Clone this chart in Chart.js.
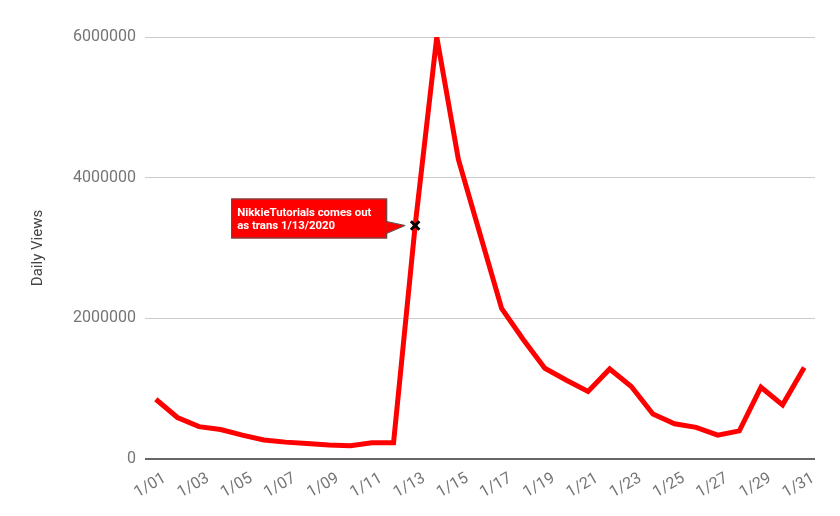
<!DOCTYPE html>
<html>
<head>
<meta charset="utf-8">
<script src="https://cdn.jsdelivr.net/npm/chart.js@4.4.1/dist/chart.umd.min.js"></script>
<style>
    body { margin: 0; background: #fff; }
    #wrap { width: 840px; height: 516px; position: relative; }
</style>
</head>
<body>
<div id="wrap"><canvas id="chart"></canvas></div>
<script>
// daily views, January 2020
const days = [
    "1/01", "1/02", "1/03", "1/04", "1/05", "1/06", "1/07", "1/08", "1/09", "1/10",
    "1/11", "1/12", "1/13", "1/14", "1/15", "1/16", "1/17", "1/18", "1/19", "1/20",
    "1/21", "1/22", "1/23", "1/24", "1/25", "1/26", "1/27", "1/28", "1/29", "1/30", "1/31"
];
const dailyViews = [
    850000, 590000, 460000, 420000, 340000, 270000, 240000, 220000, 200000, 190000,
    230000, 230000, 3320000, 6000000, 4260000, 3200000, 2140000, 1700000, 1290000, 1120000,
    960000, 1280000, 1030000, 640000, 500000, 450000, 340000, 400000, 1020000, 770000, 1300000
];
const yTicks = [0, 2000000, 4000000, 6000000];
const noteIndex = 12;
const noteLines = ["NikkieTutorials comes out", "as trans 1/13/2020"];

const annotationPlugin = {
    id: "note",
    afterDatasetsDraw(chart) {
        const ctx = chart.ctx;
        const pt = chart.getDatasetMeta(0).data[noteIndex];
        const px = pt.x;
        const py = pt.y;
        const left = px - 184, right = px - 28, top = py - 27, bottom = py + 13;

        ctx.save();
        ctx.fillStyle = "#ff0000";
        ctx.strokeStyle = "#555555";
        ctx.lineWidth = 1;
        ctx.fillRect(left, top, right - left, bottom - top);
        ctx.strokeRect(left + 0.5, top + 0.5, right - left - 1, bottom - top - 1);

        // pointer
        ctx.beginPath();
        ctx.moveTo(right - 1, py - 4);
        ctx.lineTo(px - 10, py);
        ctx.lineTo(right - 1, py + 8);
        ctx.closePath();
        ctx.fill();
        ctx.beginPath();
        ctx.moveTo(right - 0.5, py - 4);
        ctx.lineTo(px - 10, py);
        ctx.lineTo(right - 0.5, py + 8);
        ctx.stroke();

        ctx.fillStyle = "#ffffff";
        ctx.font = "bold 11.4px Roboto";
        ctx.textBaseline = "alphabetic";
        ctx.fillText(noteLines[0], left + 6, top + 18);
        ctx.fillText(noteLines[1], left + 6, top + 31);
        ctx.restore();
    },
};

const ctx = document.getElementById("chart");
new Chart(ctx, {
    type: "line",
    data: {
        labels: days,
        datasets: [
            {
                label: "Daily Views",
                data: dailyViews,
                borderColor: "#ff0000",
                borderWidth: 5,
                tension: 0,
                pointRadius: (c) => (c.dataIndex === noteIndex ? 6 : 0),
                pointHoverRadius: 0,
                pointStyle: "crossRot",
                pointBorderColor: "#000000",
                pointBorderWidth: 3,
            },
        ],
    },
    options: {
        responsive: true,
        maintainAspectRatio: false,
        animation: false,
        layout: { padding: { top: 37, right: 25, left: 0, bottom: 0 } },
        plugins: {
            legend: { display: false },
            tooltip: { enabled: false },
        },
        scales: {
            x: {
                offset: true,
                grid: { display: false },
                border: { display: false },
                afterFit: (scale) => { scale.height = 57; },
                ticks: {
                    autoSkip: false,
                    minRotation: 30,
                    maxRotation: 30,
                    color: "#757575",
                    font: { family: "Roboto", size: 16 },
                    padding: 2,
                    labelOffset: 9,
                    callback: function (value, index) {
                        return index % 2 === 0 ? days[index] : "";
                    },
                },
            },
            y: {
                min: 0,
                max: 6000000,
                afterFit: (scale) => { scale.width = 145; },
                afterBuildTicks: (scale) => {
                    scale.ticks = yTicks.map((v) => ({ value: v }));
                },
                border: { display: false },
                grid: {
                    drawTicks: false,
                    color: (c) => (c.tick && c.tick.value === 0 ? "#666666" : "#cccccc"),
                    lineWidth: (c) => (c.tick && c.tick.value === 0 ? 2 : 1),
                },
                ticks: {
                    color: "#757575",
                    font: { family: "Roboto", size: 16 },
                    padding: 9,
                    callback: (value) => String(value),
                },
                title: {
                    display: true,
                    text: "Daily Views",
                    color: "#444444",
                    font: { family: "Roboto", size: 15 },
                    padding: { top: 29, bottom: 0 },
                },
            },
        },
    },
    plugins: [annotationPlugin],
});
</script>
</body>
</html>
